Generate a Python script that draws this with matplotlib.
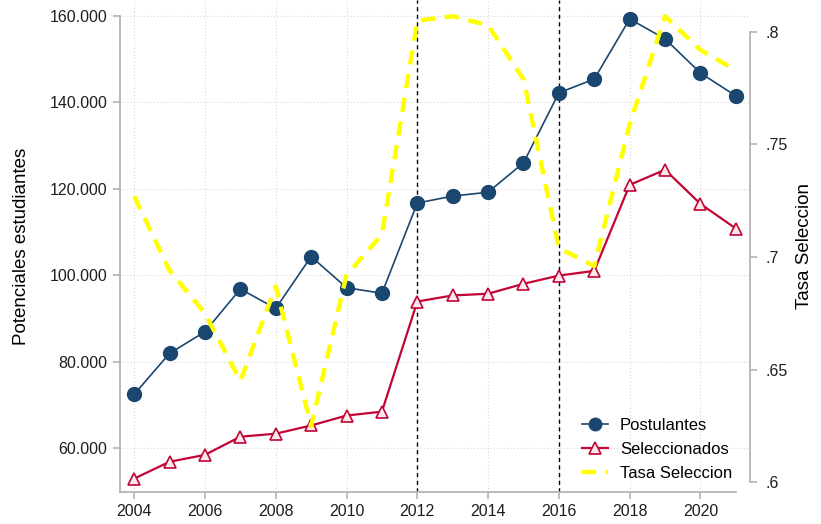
#!/usr/bin/env python3
import numpy as np
import matplotlib
matplotlib.use('Agg')
import matplotlib.pyplot as plt
from matplotlib.ticker import FuncFormatter

plt.rcParams['font.family'] = ['Liberation Sans', 'DejaVu Sans']

years = list(range(2004, 2022))

postulantes = [72400, 81900, 86900, 96800, 92300, 104300, 97100, 95800, 116700,
               118300, 119200, 126000, 142200, 145400, 159300, 154700, 146800, 141500]

seleccionados = [52900, 56800, 58400, 62600, 63300, 65200, 67500, 68400, 93900,
                 95300, 95700, 98000, 99900, 101000, 120900, 124400, 116500, 110800]

tasa = [0.727, 0.694, 0.675, 0.645, 0.687, 0.625, 0.692, 0.710, 0.805,
        0.807, 0.803, 0.779, 0.704, 0.696, 0.759, 0.807, 0.792, 0.783]

ref_years = [2012, 2016]

blue = '#1a476f'
red = '#c10534'
yellow = '#ffff00'
gray = '#b4b4b4'

fig = plt.figure(figsize=(8.21, 5.24), dpi=100)
ax = fig.add_axes([120 / 821, 32 / 524, 630 / 821, 492 / 524])
ax2 = ax.twinx()

ax.plot(years, postulantes, color=blue, lw=1.2, marker='o', ms=10,
        mfc=blue, mec=blue, label='Postulantes', zorder=3)
ax.plot(years, seleccionados, color=red, lw=1.6, marker='^', ms=9,
        mfc='#fbe9ec', mec=red, mew=1.2, label='Seleccionados', zorder=3)
ax2.plot(years, tasa, color=yellow, lw=3.2, ls=(0, (3.2, 2.2)),
         label='Tasa Seleccion', zorder=2)

for yr in ref_years:
    ax.axvline(yr, color='black', lw=1.0, ls=(0, (3, 2.5)), zorder=2)

ax.set_xlim(2003.6, 2021.4)
ax.set_ylim(49800, 163700)
ax2.set_ylim(0.5956, 0.8142)

ax.set_xticks(range(2004, 2021, 2))
ax.set_yticks(range(60000, 160001, 20000))
ax.yaxis.set_major_formatter(FuncFormatter(lambda v, p: f'{int(v):,}'.replace(',', '.')))
ax2.set_yticks([0.6, 0.65, 0.7, 0.75, 0.8])
ax2.set_yticklabels(['.6', '.65', '.7', '.75', '.8'])

ax.grid(True, color='#d8d8d8', ls=(0, (1, 2)), lw=0.8)
ax.set_axisbelow(True)

ax.set_ylabel('Potenciales estudiantes', fontsize=13.5, labelpad=14)
ax2.set_ylabel('Tasa Seleccion', fontsize=13.5, labelpad=6)

for a in (ax, ax2):
    for s in a.spines.values():
        s.set_color(gray)
        s.set_linewidth(1.3)
    a.spines['top'].set_visible(False)
    a.tick_params(colors=gray, labelcolor='#1e1e1e', labelsize=11.5, length=5,
                  width=1.2, pad=4)
ax.spines['right'].set_visible(False)
ax2.spines['left'].set_visible(False)
ax2.spines['bottom'].set_visible(False)
ax.spines['left'].set_bounds(49800, 160000)
ax.spines['bottom'].set_bounds(2003.6, 2021.0)
ax2.spines['right'].set_bounds(0.6, 0.8)
ax2.tick_params(axis='y', pad=6)

h1, l1 = ax.get_legend_handles_labels()
h2, l2 = ax2.get_legend_handles_labels()
leg = ax2.legend(h1 + h2, l1 + l2, loc='lower left', bbox_to_anchor=(0.709, -0.008),
                 frameon=False, fontsize=12, handlelength=1.6, handletextpad=0.7,
                 labelspacing=0.55, markerscale=0.9)

fig.savefig('out.png', dpi=100)
